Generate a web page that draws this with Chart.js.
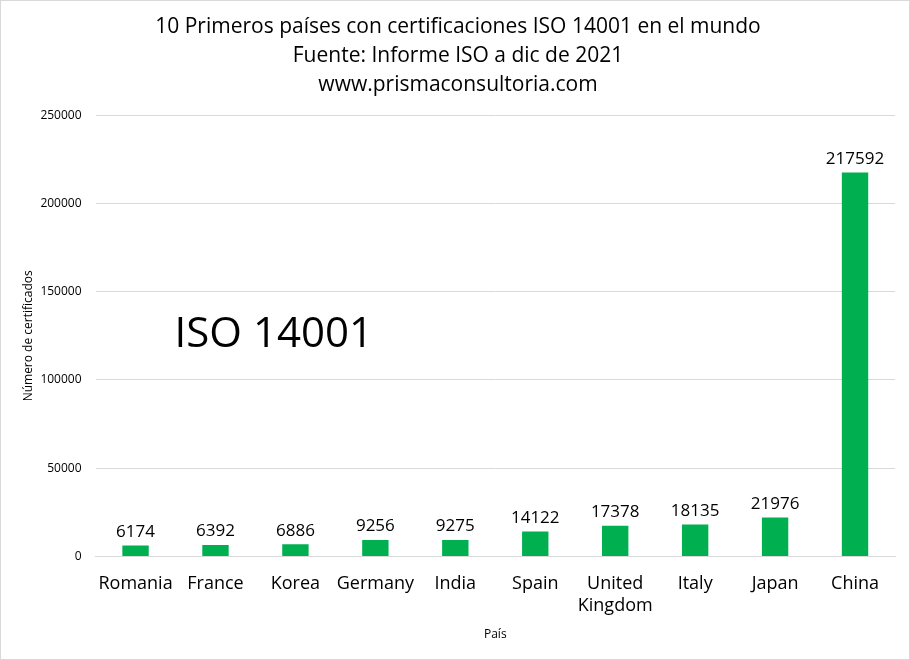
<!DOCTYPE html>
<html>
<head>
<meta charset="utf-8">
<script src="https://cdn.jsdelivr.net/npm/chart.js@4.4.0/dist/chart.umd.min.js"></script>
<style>
  html, body { margin: 0; padding: 0; background: #fff; }
  #wrap { width: 910px; height: 660px; box-sizing: border-box; border: 1px solid #d9d9d9; }
</style>
</head>
<body>
<div id="wrap"><canvas id="chart" width="908" height="658"></canvas></div>
<script>
// Chart data
const countries = ['Romania', 'France', 'Korea', 'Germany', 'India', 'Spain', ['United', 'Kingdom'], 'Italy', 'Japan', 'China'];
const certificates = [6174, 6392, 6886, 9256, 9275, 14122, 17378, 18135, 21976, 217592];
const titleLines = ['10 Primeros países con certificaciones ISO 14001 en el mundo', 'Fuente: Informe ISO a dic de 2021', 'www.prismaconsultoria.com'];

const FONT = "'Open Sans', sans-serif";

// value labels above each bar
const barLabels = {
    id: 'barLabels',
    afterDatasetsDraw(chart) {
        const ctx = chart.ctx;
        const meta = chart.getDatasetMeta(0);
        ctx.save();
        ctx.font = `17px ${FONT}`;
        ctx.fillStyle = '#000';
        ctx.textAlign = 'center';
        ctx.textBaseline = 'bottom';
        meta.data.forEach((bar, i) => {
            ctx.fillText(String(certificates[i]), bar.x, bar.y - 5);
        });
        ctx.restore();
    }
};

// big "ISO 14001" text inside the plot
const bigText = {
    id: 'bigText',
    afterDraw(chart) {
        const { ctx, chartArea } = chart;
        ctx.save();
        ctx.font = `42px ${FONT}`;
        ctx.fillStyle = '#000';
        ctx.textAlign = 'left';
        ctx.textBaseline = 'middle';
        ctx.fillText('ISO 14001', chartArea.left + 79, chartArea.top + 220);
        ctx.restore();
    }
};

new Chart(document.getElementById('chart'), {
    type: 'bar',
    data: {
        labels: countries,
        datasets: [{
            data: certificates,
            backgroundColor: '#00b050',
            barPercentage: 0.33,
            categoryPercentage: 1.0
        }]
    },
    options: {
        responsive: false,
        animation: false,
        layout: { padding: { left: 20, right: 14, top: 0, bottom: 17 } },
        plugins: {
            legend: { display: false },
            tooltip: { enabled: false },
            title: {
                display: true,
                text: titleLines,
                color: '#000',
                font: { family: FONT, size: 21, weight: 'normal', lineHeight: 1.4 },
                padding: { top: 11, bottom: 15 }
            }
        },
        scales: {
            x: {
                grid: { display: false, drawTicks: false },
                border: { color: '#d9d9d9' },
                ticks: { color: '#000', font: { family: FONT, size: 18 }, padding: 17, maxRotation: 0, autoSkip: false },
                title: { display: true, text: 'País', color: '#000', font: { family: FONT, size: 12 }, padding: { top: -6, bottom: 0 } }
            },
            y: {
                min: 0,
                max: 250000,
                ticks: { stepSize: 50000, color: '#000', font: { family: FONT, size: 12 }, padding: 14, callback: v => String(v) },
                grid: { color: '#d9d9d9', drawTicks: false },
                border: { display: false },
                title: { display: true, text: 'Número de certificados', color: '#000', font: { family: FONT, size: 12 }, padding: { top: 0, bottom: -9 } }
            }
        }
    },
    plugins: [barLabels, bigText]
});
</script>
</body>
</html>
